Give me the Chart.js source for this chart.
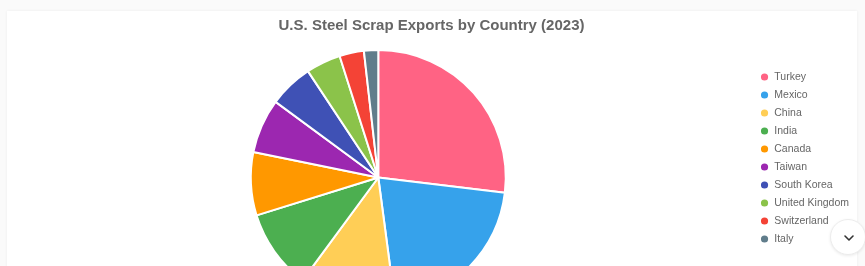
<!DOCTYPE html>
<html>
<head>
<meta charset="utf-8">
<script src="https://cdn.jsdelivr.net/npm/chart.js@4.4.1/dist/chart.umd.min.js"></script>
<style>
  html, body { margin: 0; padding: 0; background: #fafafa; overflow: hidden; width: 865px; height: 266px; }
  .card { position: absolute; left: 7px; top: 11px; width: 850px; height: 320px; background: #fff; box-shadow: 0 0 3px rgba(0,0,0,0.06); }
  .wrap { position: absolute; left: 4px; top: 10px; width: 855px; height: 296px; }
  .btn { position: absolute; left: 830px; top: 219px; width: 36px; height: 36px; border-radius: 50%; background: #fff; border: 1px solid #ececec; box-shadow: 0 1px 3px rgba(0,0,0,0.08); box-sizing: border-box; }
  .btn svg { position: absolute; left: 12px; top: 13px; }
</style>
</head>
<body>
<div class="card"></div>
<div class="wrap"><canvas id="c" width="855" height="296"></canvas></div>
<div class="btn"><svg width="12" height="10" viewBox="0 0 12 10"><polyline points="2,3 6,7 10,3" fill="none" stroke="#333" stroke-width="1.6" stroke-linecap="round" stroke-linejoin="round"/></svg></div>
<script>
const countries = ["Turkey", "Mexico", "China", "India", "Canada", "Taiwan", "South Korea", "United Kingdom", "Switzerland", "Italy"];
const exportShares = [26.9, 21.0, 12.2, 10.1, 8.0, 6.9, 5.6, 4.4, 3.1, 1.8];
const sliceColors = ["#FF6384", "#36A2EB", "#FFCE56", "#4CAF50", "#FF9800", "#9C27B0", "#3F51B5", "#8BC34A", "#F44336", "#607D8B"];
const chartTitle = "U.S. Steel Scrap Exports by Country (2023)";

new Chart(document.getElementById("c"), {
  type: "pie",
  data: {
    labels: countries,
    datasets: [{
      data: exportShares,
      backgroundColor: sliceColors,
      borderColor: "#fff",
      borderWidth: 2
    }]
  },
  options: {
    responsive: false,
    animation: false,
    layout: { padding: 0 },
    plugins: {
      title: {
        display: true,
        text: chartTitle,
        color: "#666",
        font: { size: 15, weight: "bold", family: "Arial, 'Liberation Sans', sans-serif" },
        padding: { top: 7, bottom: 14 }
      },
      legend: {
        position: "right",
        labels: {
          usePointStyle: true,
          pointStyle: "circle",
          boxWidth: 9,
          boxHeight: 6.5,
          padding: 7.5,
          color: "#666",
          font: { size: 10.5, family: "Arial, 'Liberation Sans', sans-serif" }
        }
      },
      tooltip: { enabled: false }
    }
  }
});
</script>
</body>
</html>
